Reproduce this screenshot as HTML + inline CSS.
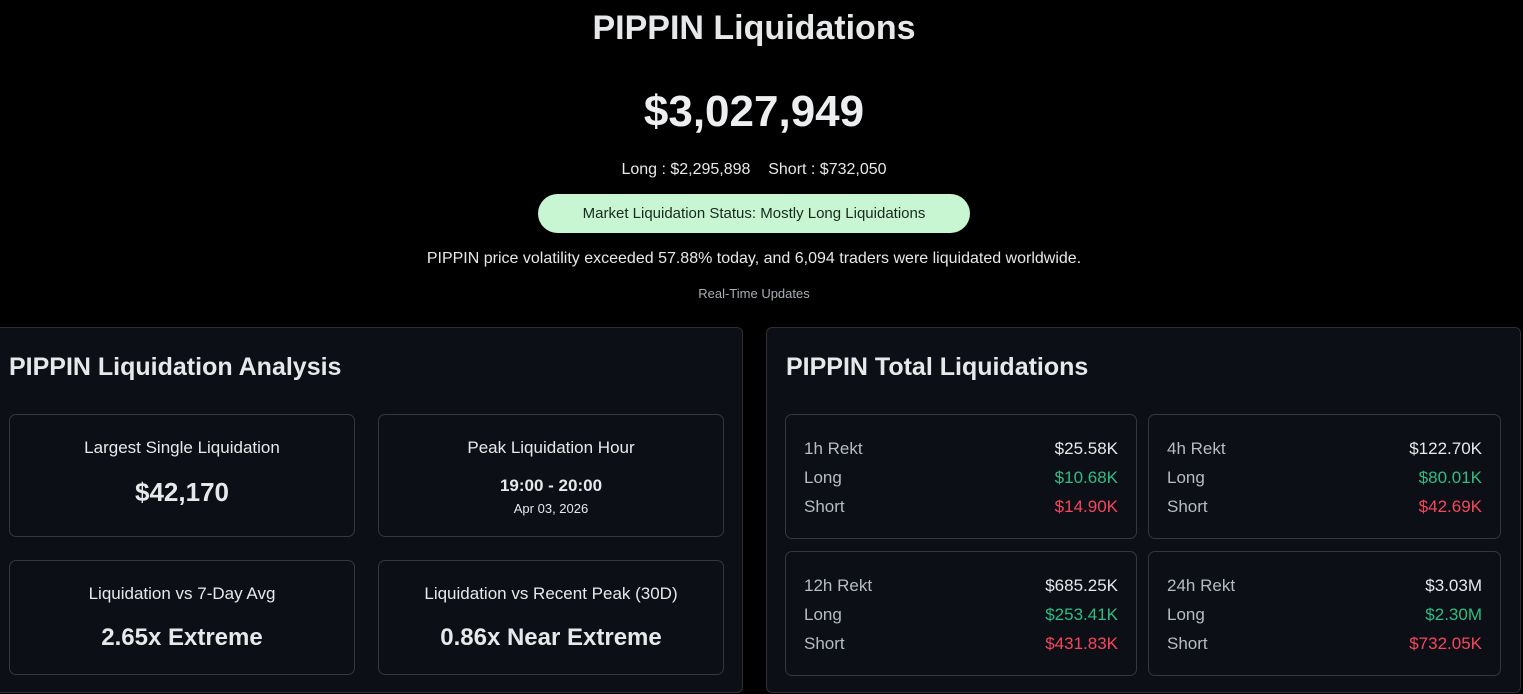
<!DOCTYPE html>
<html><head><meta charset="utf-8"><style>
*{margin:0;padding:0;box-sizing:border-box}
html,body{width:1523px;height:694px;overflow:hidden}
body{background:#000;position:relative;font-family:"Liberation Sans",sans-serif;color:#e6e8ea}
.a{position:absolute;white-space:nowrap}
.c{text-align:center}
.panel{position:absolute;background:#0c0f15;border:1px solid #2c2f36;border-radius:6px}
.box{position:absolute;border:1px solid #34373f;border-radius:7px;background:#0c0f15}
.lbl{color:#b7bcc4}
.g{color:#2ebd85}.r{color:#f6465d}
.col{font-size:17px;line-height:29px}
</style></head><body>
<div class="a c" style="left:0;width:1508px;top:9px;font-size:34px;font-weight:bold;color:#e6e8ea">PIPPIN Liquidations</div>
<div class="a c" style="left:0;width:1508px;top:87px;font-size:44px;font-weight:bold;color:#eceef0">$3,027,949</div>
<div class="a c" style="left:0;width:1508px;top:161px;font-size:16px;color:#e6e8ea">Long : $2,295,898 &nbsp;&nbsp; Short : $732,050</div>
<div class="a c" style="left:538px;width:432px;top:194px;height:39px;line-height:39px;border-radius:20px;background:#c8f5d2;color:#1a2a1e;font-size:15px">Market Liquidation Status: Mostly Long Liquidations</div>
<div class="a c" style="left:0;width:1508px;top:250px;font-size:16px;color:#e6e8ea">PIPPIN price volatility exceeded 57.88% today, and 6,094 traders were liquidated worldwide.</div>
<div class="a c" style="left:0;width:1508px;top:286px;font-size:13px;color:#a8adb4">Real-Time Updates</div>

<div class="panel" style="left:-8px;top:327px;width:751px;height:366px"></div>
<div class="a" style="left:9px;top:353px;font-size:25px;font-weight:bold">PIPPIN Liquidation Analysis</div>
<div class="box" style="left:9px;top:414px;width:346px;height:123px"></div>
<div class="a c" style="left:9px;width:346px;top:438px;font-size:17px">Largest Single Liquidation</div>
<div class="a c" style="left:9px;width:346px;top:477px;font-size:26px;font-weight:bold">$42,170</div>
<div class="box" style="left:378px;top:414px;width:346px;height:123px"></div>
<div class="a c" style="left:378px;width:346px;top:438px;font-size:17px">Peak Liquidation Hour</div>
<div class="a c" style="left:378px;width:346px;top:476px;font-size:17px;font-weight:bold">19:00 - 20:00</div>
<div class="a c" style="left:378px;width:346px;top:501px;font-size:13px">Apr 03, 2026</div>
<div class="box" style="left:9px;top:560px;width:346px;height:115px"></div>
<div class="a c" style="left:9px;width:346px;top:584px;font-size:17px">Liquidation vs 7-Day Avg</div>
<div class="a c" style="left:9px;width:346px;top:624px;font-size:24px;font-weight:bold">2.65x Extreme</div>
<div class="box" style="left:378px;top:560px;width:346px;height:115px"></div>
<div class="a c" style="left:378px;width:346px;top:584px;font-size:17px">Liquidation vs Recent Peak (30D)</div>
<div class="a c" style="left:378px;width:346px;top:624px;font-size:24px;font-weight:bold">0.86x Near Extreme</div>

<div class="panel" style="left:766px;top:327px;width:755px;height:366px"></div>
<div class="a" style="left:786px;top:353px;font-size:25px;font-weight:bold">PIPPIN Total Liquidations</div>

<div class="box" style="left:785px;top:414px;width:352px;height:125px"></div>
<div class="a lbl col" style="left:804px;top:434px">1h Rekt<br>Long<br>Short</div>
<div class="a col" style="right:405px;top:434px;text-align:right">$25.58K<br><span class="g">$10.68K</span><br><span class="r">$14.90K</span></div>
<div class="box" style="left:1148px;top:414px;width:353px;height:125px"></div>
<div class="a lbl col" style="left:1167px;top:434px">4h Rekt<br>Long<br>Short</div>
<div class="a col" style="right:41px;top:434px;text-align:right">$122.70K<br><span class="g">$80.01K</span><br><span class="r">$42.69K</span></div>

<div class="box" style="left:785px;top:551px;width:352px;height:125px"></div>
<div class="a lbl col" style="left:804px;top:571px">12h Rekt<br>Long<br>Short</div>
<div class="a col" style="right:405px;top:571px;text-align:right">$685.25K<br><span class="g">$253.41K</span><br><span class="r">$431.83K</span></div>
<div class="box" style="left:1148px;top:551px;width:353px;height:125px"></div>
<div class="a lbl col" style="left:1167px;top:571px">24h Rekt<br>Long<br>Short</div>
<div class="a col" style="right:41px;top:571px;text-align:right">$3.03M<br><span class="g">$2.30M</span><br><span class="r">$732.05K</span></div>
</body></html>
